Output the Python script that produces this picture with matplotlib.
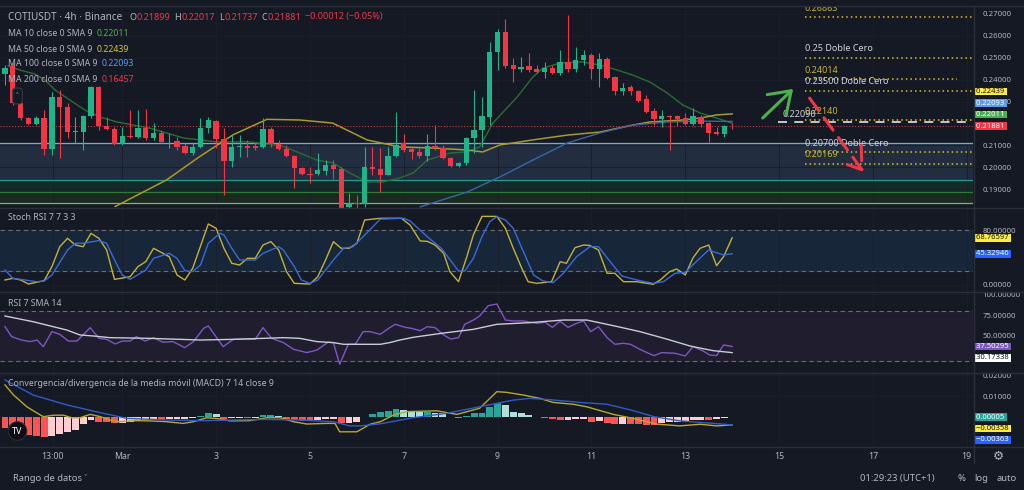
import numpy as np
import matplotlib
matplotlib.use("Agg")
import matplotlib.pyplot as plt
from matplotlib.ticker import FormatStrFormatter

plt.rcParams['font.family'] = ['Noto Sans', 'DejaVu Sans']

# ---- 4h candles ----
opens = [0.2426, 0.2462, 0.2294, 0.2225, 0.2198, 0.2225, 0.2084, 0.2321, 0.2275, 0.2163,
         0.2161, 0.2234, 0.2367, 0.2189, 0.2175, 0.2106, 0.2143, 0.2138, 0.2180, 0.2134,
         0.2157, 0.2118, 0.2120, 0.2097, 0.2065, 0.2093, 0.2180, 0.2211, 0.2129, 0.2029,
         0.2091, 0.2095, 0.2095, 0.2093, 0.2175, 0.2106, 0.2084, 0.2052, 0.1997, 0.1971,
         0.1969, 0.1983, 0.2011, 0.1992, 0.1819, 0.1837, 0.1832, 0.2001, 0.1992, 0.1965,
         0.2052, 0.2111, 0.2084, 0.2070, 0.2052, 0.2097, 0.2088, 0.2042, 0.2006, 0.2020,
         0.2134, 0.2170, 0.2230, 0.2527, 0.2618, 0.2467, 0.2449, 0.2463, 0.2449, 0.2435,
         0.2453, 0.2431, 0.2481, 0.2449, 0.2488, 0.2513, 0.2449, 0.2495, 0.2412, 0.2348,
         0.2367, 0.2348, 0.2312, 0.2257, 0.2221, 0.2234, 0.2234, 0.2225, 0.2198, 0.2230,
         0.2202, 0.2161, 0.2152, 0.21899]
highs = [0.2467, 0.2480, 0.2307, 0.2230, 0.2235, 0.2262, 0.2344, 0.2353, 0.2294, 0.2230,
         0.2239, 0.2371, 0.2371, 0.2230, 0.2184, 0.2184, 0.2262, 0.2262, 0.2266, 0.2202,
         0.2170, 0.2157, 0.2138, 0.2111, 0.2111, 0.2225, 0.2230, 0.2216, 0.2180, 0.2148,
         0.2148, 0.2125, 0.2115, 0.2225, 0.2184, 0.2125, 0.2102, 0.2056, 0.2001, 0.2001,
         0.2065, 0.2033, 0.2033, 0.2001, 0.1883, 0.1874, 0.2093, 0.2093, 0.2088, 0.2093,
         0.2253, 0.2152, 0.2093, 0.2088, 0.2152, 0.2193, 0.2102, 0.2047, 0.2024, 0.2138,
         0.2353, 0.2321, 0.2572, 0.2631, 0.2677, 0.2499, 0.2504, 0.2522, 0.2467, 0.2481,
         0.2467, 0.2536, 0.2695, 0.2549, 0.2536, 0.2522, 0.2522, 0.2504, 0.2415, 0.2385,
         0.2376, 0.2353, 0.2330, 0.2271, 0.2262, 0.2239, 0.2239, 0.2248, 0.2271, 0.2239,
         0.2207, 0.2184, 0.2193, 0.22017]
lows = [0.2376, 0.2285, 0.2216, 0.2193, 0.2195, 0.2056, 0.2056, 0.2042, 0.2134, 0.2111,
        0.2079, 0.2225, 0.2170, 0.2170, 0.2102, 0.2102, 0.2134, 0.2134, 0.2125, 0.2125,
        0.2111, 0.2088, 0.2079, 0.2061, 0.2056, 0.2088, 0.2157, 0.2088, 0.1874, 0.2001,
        0.2047, 0.2047, 0.2079, 0.2088, 0.2093, 0.2079, 0.2047, 0.1905, 0.1965, 0.1928,
        0.1965, 0.1965, 0.1947, 0.1800, 0.1805, 0.1810, 0.1820, 0.1965, 0.1887, 0.1965,
        0.2047, 0.2070, 0.2038, 0.2042, 0.2029, 0.2079, 0.2038, 0.2001, 0.2001, 0.2011,
        0.2065, 0.2093, 0.2193, 0.2444, 0.2453, 0.2389, 0.2435, 0.2435, 0.2431, 0.2408,
        0.2426, 0.2422, 0.2435, 0.2435, 0.2467, 0.2403, 0.2367, 0.2405, 0.2330, 0.2330,
        0.2330, 0.2298, 0.2248, 0.2193, 0.2184, 0.2079, 0.2189, 0.2193, 0.2193, 0.2184,
        0.2115, 0.2148, 0.2138, 0.21737]
closes = [0.2453, 0.2294, 0.2225, 0.2198, 0.2225, 0.2084, 0.2321, 0.2275, 0.2161, 0.2168,
          0.2234, 0.2367, 0.2189, 0.2175, 0.2106, 0.2143, 0.2138, 0.2180, 0.2134, 0.2157,
          0.2116, 0.2122, 0.2093, 0.2065, 0.2093, 0.2180, 0.2216, 0.2129, 0.2029, 0.2093,
          0.2095, 0.2090, 0.2090, 0.2175, 0.2106, 0.2084, 0.2052, 0.1997, 0.1969, 0.1967,
          0.1988, 0.2011, 0.1992, 0.1815, 0.1837, 0.1832, 0.2001, 0.1992, 0.1965, 0.2052,
          0.2102, 0.2079, 0.2070, 0.2052, 0.2097, 0.2088, 0.2042, 0.2006, 0.2020, 0.2134,
          0.2170, 0.2234, 0.2527, 0.2618, 0.2463, 0.2449, 0.2458, 0.2444, 0.2435, 0.2453,
          0.2431, 0.2481, 0.2449, 0.2490, 0.2513, 0.2449, 0.2495, 0.2408, 0.2348, 0.2362,
          0.2348, 0.2303, 0.2253, 0.2221, 0.2234, 0.2230, 0.2221, 0.2198, 0.2234, 0.2198,
          0.2157, 0.2152, 0.2189, 0.21881]

# moving averages (bar position, value)
ma10_x = [0.4, 1.9, 3.8, 5.1, 6.4, 8.3, 10.2, 12.1, 14.3, 18.5, 22.8, 27.1, 31.3, 35.5, 39.9,
          41.9, 44.1, 46.3, 48.3, 50.5, 52.2, 54, 56.9, 59.1, 60.7, 62.4, 65.5, 67.5, 68.8,
          71, 73.9, 76.1, 78.3, 80.3, 82.5, 84.7, 86.7, 88.9, 91, 93]
ma10_y = [0.2463, 0.2444, 0.2426, 0.2399, 0.2353, 0.2307, 0.2262, 0.2230, 0.2207, 0.2179,
          0.2134, 0.2116, 0.2116, 0.2097, 0.2033, 0.2020, 0.1974, 0.1933, 0.1933, 0.1951,
          0.1974, 0.2033, 0.2065, 0.2070, 0.2093, 0.2202, 0.2321, 0.2412, 0.2453, 0.2476,
          0.2481, 0.2467, 0.2444, 0.2421, 0.2389, 0.2339, 0.2284, 0.2248, 0.2225, 0.22011]
ma50_x = [14.1, 20.7, 24.9, 29.2, 33.5, 37.7, 41.9, 46.3, 50.5, 54.7, 59.1, 61.1, 63.3, 67.5,
          71.9, 76.1, 80.3, 82.5, 86.7, 88.9, 91, 93]
ma50_y = [0.1821, 0.1943, 0.2049, 0.2149, 0.2219, 0.2216, 0.2202, 0.2125, 0.2093, 0.2088,
          0.2079, 0.2070, 0.2102, 0.2125, 0.2147, 0.2161, 0.2193, 0.2207, 0.2216, 0.2225,
          0.2239, 0.22439]
ma100_x = [53.1, 59.1, 63.3, 67.5, 71.9, 76.1, 80.3, 84.7, 88.9, 93]
ma100_y = [0.1819, 0.1887, 0.1956, 0.2033, 0.2111, 0.2157, 0.2193, 0.2207, 0.2211, 0.22093]

# zones and drawn levels
zone_lines = [0.2111, 0.1942, 0.1887, 0.1837]
levels = [0.26863, 0.25, 0.24014, 0.235, 0.2214, 0.207, 0.20169]
level_labels = ["0.26863", "0.25 Doble Cero", "0.24014", "0.23500 Doble Cero",
                "0.22140", "0.20700 Doble Cero", "0.20169"]
level_end = [123.8, 123.8, 121.7, 123.8, 123.8, 123.8, 123.8]
dashed_level = 0.2209

# Stoch RSI
k_x = [0, 1, 2, 3, 5, 6, 7, 8, 9, 10, 11, 12, 13, 14, 16, 17, 18, 19, 21, 22, 23, 24, 26, 27,
       28, 29, 30, 31, 32, 33, 34, 35, 36, 37, 39, 40, 41, 42, 43, 44, 45, 46, 48, 50.7, 51.8,
       53.1, 54, 55, 56.1, 56.9, 58, 59, 59.9, 61, 62.2, 62.9, 64, 65, 66.1, 66.9, 68, 69.9,
       71, 71.8, 72.9, 74, 74.8, 75.9, 77, 78, 79.1, 80.8, 82.9, 83.8, 85, 85.9, 87, 88,
       88.9, 90, 91, 91.9, 93]
k_v = [6.9, 9.3, 6.9, 1.0, 5.9, 26.4, 55.6, 67.9, 58.1, 55.6, 75.2, 67.9, 50.8, 7.8, 11.7,
       26.4, 33.7, 53.3, 41.0, 14.2, 6.9, 23.9, 88.9, 82.5, 53.3, 31.3, 28.8, 38.6, 38.6,
       58.1, 63.0, 50.8, 19.1, 2.0, 1.0, 11.7, 36.2, 63.0, 53.3, 53.3, 60.6, 94.7, 97.2,
       97.2, 87.4, 64.0, 63.5, 58.1, 45.9, 19.1, 4.4, 38.6, 72.8, 100, 100, 100, 82.5, 53.3,
       23.9, 4.4, 2.0, 4.4, 33.7, 31.3, 54.2, 58.1, 57.3, 50.8, 16.7, 16.7, 4.4, 4.4, 0.6,
       6.9, 19.1, 23.0, 14.2, 39.5, 53.3, 58.1, 27.8, 41.0, 68.77]
d_x = [0, 1, 2, 4, 5, 6, 8, 9, 10, 12, 13, 14, 15, 16, 18, 19, 21, 22, 23, 24, 25, 26, 27.5,
       28, 29, 30, 32, 33, 35, 35.6, 37, 37.9, 39, 40, 41, 42, 43.3, 44.5, 45.8, 48, 51,
       51.8, 54, 55.8, 57.1, 58, 58.8, 59.9, 61, 62, 62.9, 64, 65, 66.3, 67.6, 68.8, 70.1,
       71.4, 73.1, 74.8, 75.9, 77.4, 78.9, 80.8, 82.9, 84.2, 85.7, 87, 88.4, 90, 90.6, 91.9, 93]
d_v = [21.5, 9.3, 7.8, 4.4, 5.4, 14.2, 50.8, 60.6, 60.6, 64.5, 60.6, 36.2, 14.2, 7.8, 21.5,
       38.6, 45.9, 38.6, 20.5, 19.1, 28.8, 60.6, 75.2, 72.8, 53.3, 36.2, 36.2, 45.9, 55.6,
       50.8, 26.4, 6.9, 2.0, 6.9, 21.5, 36.2, 53.3, 55.6, 70.3, 96.0, 97.2, 93.3, 70.3,
       53.3, 33.7, 20.1, 20.1, 38.6, 70.3, 92.3, 99.6, 94.7, 82.5, 48.3, 14.2, 5.4, 2.9,
       16.7, 41.0, 55.6, 55.6, 33.7, 12.7, 6.9, 2.0, 4.4, 16.7, 18.2, 33.7, 50.8, 48.3,
       43.5, 45.33]

# RSI 7 and its SMA 14
rsi_x = [0, 0.85, 2.1, 3.2, 4.1, 4.9, 6, 7, 8.1, 9.2, 10.9, 12, 13, 14.1, 15, 16, 16.8, 17.9,
         19, 20.2, 21.5, 23, 24.1, 25.4, 26, 27.9, 29.2, 30.5, 32, 33, 34.1, 35.6, 36.9, 38.6,
         39.9, 41.3, 42, 42.8, 43.9, 44.8, 45.8, 46.7, 48, 49.2, 49.9, 51.2, 52, 53.1, 54, 55,
         56.1, 57, 58, 58.8, 59.9, 60.7, 61.8, 62.9, 64, 65, 66.3, 68, 69.1, 70, 71, 72, 73.1,
         74, 74.9, 75.9, 77, 78, 79.1, 80, 81.2, 82.3, 83, 84, 85.7, 87, 88, 89.3, 90.1, 91,
         91.9, 93]
rsi_v = [61.1, 49.2, 45.2, 43.3, 45.2, 37.3, 55.2, 52, 44, 44, 59.9, 47.2, 46, 40.5, 44, 44,
         49.2, 44, 48, 42.5, 43.3, 36.1, 43.3, 59.1, 61.9, 37.3, 46, 46.4, 46, 59.9, 47.2,
         42.1, 34.1, 30.2, 33.3, 42.5, 42.1, 16.3, 40.1, 40.1, 55.2, 55.2, 52, 59.9, 63.9,
         60.3, 59.1, 56.3, 61.1, 59.9, 51.2, 46.4, 48, 63.9, 69, 73.8, 86.1, 88.1, 69, 67.9,
         67.9, 65.1, 66.3, 60.3, 67.5, 60.3, 65.1, 67.9, 55.2, 61.1, 48, 40.1, 41.3, 40.1,
         34.1, 29.4, 26.6, 30.2, 29.4, 26.2, 37.3, 32.1, 27.4, 26.6, 39.3, 37.5]
rsi_ma_x = [0, 3.6, 7.9, 9.6, 11.3, 13.4, 18.5, 25, 29.2, 35.6, 37.7, 39.9, 42, 43.3, 46.2, 48,
            49.2, 50.5, 52.2, 54.3, 56.5, 59.9, 62.9, 67.1, 71.4, 74.4, 77.8, 81.2, 84.6, 87.6,
            89.7, 90.6, 93]
rsi_ma_v = [73.8, 67, 57.1, 51.2, 50, 48, 47.2, 45.2, 46, 48, 47.2, 43.3, 42.1, 40.1, 40.1,
            40.1, 42.1, 45.2, 48.4, 51.2, 54, 57.9, 63.9, 65.9, 69, 69, 62.3, 55.2, 46.4, 38.1,
            34.1, 32.5, 30.17]

# MACD 7 14 9
macd_x = [0, 1.1, 2.8, 3.8, 4.9, 6.2, 7.5, 8.5, 9.6, 10.9, 12.2, 13.4, 14.7, 16.4, 18.5, 20.7,
          22.8, 24.1, 25.8, 27.1, 28.8, 31.3, 33.5, 35.2, 36.9, 38.6, 41.1, 42.2, 42.8, 45,
          46.7, 48, 49.7, 51.4, 55.2, 57.8, 60.7, 62.9, 64.1, 66.3, 68.4, 70.1, 72.7, 74.4,
          77.8, 80.3, 82.1, 83.3, 86.3, 88.9, 91, 93]
macd_v = [0.0154, 0.0106, 0.0050, 0.0027, 0.0003, 0.0010, 0.0010, -0.0002, -0.0002, 0.0014,
          0.0003, -0.0013, -0.0021, -0.0016, -0.0017, -0.0021, -0.0029, -0.0021, -0.0002,
          -0.0006, -0.0017, -0.0016, -0.0002, -0.0002, -0.0021, -0.0032, -0.0029, -0.0029,
          -0.0069, -0.0069, -0.0033, -0.0021, 0.0011, 0.0027, 0.0031, 0.0014, 0.0043, 0.0122,
          0.0119, 0.0106, 0.0090, 0.0071, 0.0062, 0.0050, 0.0014, -0.0005, -0.0021, -0.0032,
          -0.0041, -0.0033, -0.0041, -0.00358]
signal_x = [0, 3.6, 7.9, 12.2, 15.6, 20.7, 25, 29.2, 33.5, 37.7, 42, 44.1, 45.4, 48, 52.2,
            56.5, 60.7, 65, 67.1, 69.3, 73.5, 77, 80, 83, 86.3, 90.6, 93]
signal_v = [0.0178, 0.0106, 0.0059, 0.0022, -0.0005, -0.0013, -0.0016, -0.0013, -0.0010,
            -0.0013, -0.0021, -0.0041, -0.0041, -0.0031, -0.0002, 0.0019, 0.0050, 0.0082,
            0.0090, 0.0085, 0.0071, 0.0062, 0.0035, 0.0003, -0.0017, -0.0029, -0.00363]
hist = np.array([-51, -55, -75, -84, -90, -92, -88, -80, -70, -60,
                 -32, -13, -21, -22, -29, -26, -22, -16, -13, -10,
                 -11, -10, -8, -6, -5, 6, 19, 16, -6, -5,
                 -4, -5, -4, 9, 9, 6, -10, -13, -16, -17,
                 -13, -7, -6, -29, -29, -21, 2, 14, 27, 31,
                 38, 35, 31, 27, 27, 22, 19, 1, -5, 6,
                 19, 22, 48, 70, 59, 27, 19, 11, 3, -2,
                 -10, -12, -11, -10, -10, -21, -18, -29, -32, -31,
                 -33, -34, -37, -38, -29, -21, -21, -16, -13, -13,
                 -14, -8, -5, 0.5]) * 1e-4

tick_pos = [6.1, 15, 27, 39, 51, 63, 75, 87, 99, 111, 123]
tick_lab = ["13:00", "Mar", "3", "5", "7", "9", "11", "13", "15", "17", "19"]

BG = "#151924"
GRID = "#1b1f2b"
SEP = "#2a2e39"
TXT = "#b2b5be"
UP = "#1fb38a"
DOWN = "#f23645"
W, H = 1024, 490


def fx(x):
    return x / W


def fy(y):
    return 1 - y / H


fig = plt.figure(figsize=(W / 100, H / 100), dpi=100, facecolor=BG)


def panel(top, bottom, yticks):
    ax = fig.add_axes([0, fy(bottom), 973 / W, (bottom - top) / H])
    ax.set_facecolor(BG)
    for s in ax.spines.values():
        s.set_visible(False)
    ax.set_xlim(-0.64, 123.8)
    ax.set_xticks(tick_pos)
    ax.set_yticks(yticks)
    ax.grid(True, color=GRID, lw=0.7)
    ax.set_axisbelow(True)
    ax.yaxis.tick_right()
    ax.yaxis.set_major_formatter(FormatStrFormatter("%.5f"))
    ax.tick_params(axis="y", length=0, pad=7, labelsize=5.6, labelcolor=TXT)
    ax.tick_params(axis="x", length=0, labelbottom=False)
    return ax


# ticks hidden behind the value tags are left out
ax_p = panel(6, 207.5, [0.19, 0.20, 0.21, 0.23, 0.24, 0.25, 0.26, 0.27])
ax_s = panel(207.5, 291.5, [0, 80])
ax_r = panel(291.5, 372.5, [50, 75, 100])
ax_m = panel(372.5, 446.5, [0.01, 0.02])

# ---- price panel ----
ax_p.set_ylim(0.18164, 0.27365)

ax_p.axhspan(zone_lines[1], zone_lines[0], color="#222e40", zorder=0.5)
ax_p.axhspan(zone_lines[2], zone_lines[1], color="#15292b", zorder=0.5)
ax_p.axhspan(zone_lines[3], zone_lines[2], color="#1a2a20", zorder=0.5)
for v, c in zip(zone_lines, ["#7ea6cf", "#1f9e90", "#2f7a3a", "#86b07a"]):
    ax_p.axhline(v, color=c, lw=0.9, zorder=0.6)

o, h, l, c = map(np.array, (opens, highs, lows, closes))
idx = np.arange(len(o))
cols = np.where(c >= o, UP, DOWN)
ax_p.vlines(idx, l, h, colors=cols, lw=0.8, zorder=3)
ax_p.bar(idx, np.maximum(np.abs(c - o), 0.00012), bottom=np.minimum(o, c), width=0.68,
         color=cols, linewidth=0, zorder=3)

ax_p.plot(ma10_x, ma10_y, color="#2e6b34", lw=1.0, zorder=2)
ax_p.plot(ma50_x, ma50_y, color="#a89a2c", lw=1.1, zorder=2)
ax_p.plot(ma100_x, ma100_y, color="#3b64a8", lw=1.0, zorder=2)

ax_p.axhline(closes[-1], color=DOWN, ls=(0, (1, 2)), lw=0.7, zorder=2)
ax_p.plot([98.8, 123.8], [dashed_level, dashed_level], color="#d1d4dc", lw=1.3,
          ls=(0, (5, 4)), zorder=4)
ax_p.annotate("0.22090", xy=(99.5, dashed_level), xytext=(0, 1.5), textcoords="offset points",
              ha="left", va="bottom", fontsize=6.5, color="#d1d4dc", zorder=5)

for v, lab, end in zip(levels, level_labels, level_end):
    ax_p.plot([102.3, end], [v, v], color="#d4c12e", lw=1.1, ls=(0, (1, 2)), zorder=4)
    col = "#d1d4dc" if "Doble" in lab else "#c8b42c"
    ax_p.annotate(lab, xy=(102.3, v), xytext=(0, 3.2), textcoords="offset points",
                  ha="left", va="bottom", fontsize=6.5, color=col, zorder=5, clip_on=True)

ax_p.annotate("", xy=(100.8, 0.2358), xytext=(96.9, 0.2225),
              arrowprops=dict(arrowstyle="->,head_length=0.8,head_width=0.55", color="#4caf50",
                              lw=2.2, mutation_scale=18, shrinkA=0, shrinkB=0), zorder=6)
ax_p.annotate("", xy=(109.8, 0.1979), xytext=(102.9, 0.2316),
              arrowprops=dict(arrowstyle="->,head_length=0.8,head_width=0.55", color="#f23645",
                              lw=2.2, ls=(0, (5, 3)), mutation_scale=18, shrinkA=0, shrinkB=0),
              zorder=6)

# ---- Stoch RSI ----
ax_s.set_ylim(-9.96, 113.0)
ax_s.axhspan(20, 80, color="#172638", zorder=0.5)
for v in (20, 80):
    ax_s.axhline(v, color="#6a6d78", lw=0.8, ls=(0, (4, 3)), zorder=1)
ax_s.plot(k_x, k_v, color="#c2b238", lw=1.0, zorder=3)
ax_s.plot(d_x, d_v, color="#3a6ad8", lw=1.0, zorder=3)

# ---- RSI ----
ax_r.set_ylim(6.5, 103.0)
ax_r.axhspan(20, 80, color="#1f1d2e", zorder=0.5)
for v in (20, 80):
    ax_r.axhline(v, color="#6a6d78", lw=0.8, ls=(0, (4, 3)), zorder=1)
ax_r.plot(rsi_x, rsi_v, color="#7e57c2", lw=1.0, zorder=3)
ax_r.plot(rsi_ma_x, rsi_ma_v, color="#c9ccd4", lw=1.0, zorder=3)

# ---- MACD ----
ax_m.set_ylim(-0.0139, 0.02133)
prev = np.concatenate([[0], hist[:-1]])
hcols = np.where(hist >= 0, np.where(hist >= prev, "#26a69a", "#b2dfdb"),
                 np.where(hist < prev, "#ff5252", "#ffcdd2"))
ax_m.bar(np.arange(len(hist)), hist, width=0.88, color=hcols, linewidth=0, zorder=2)
ax_m.plot(macd_x, macd_v, color="#b8a82a", lw=1.0, zorder=3)
ax_m.plot(signal_x, signal_v, color="#2f5bc9", lw=1.0, zorder=3)
ax_m.set_xticklabels(tick_lab)
ax_m.tick_params(axis="x", labelbottom=True, pad=4, labelsize=6.3, labelcolor=TXT)


# ---- value tags on the right scale ----
def tag(ax, y, text, bg, fg, dy=0):
    ax.annotate(" " + text + " ", xy=(1, y), xycoords=ax.get_yaxis_transform(),
                xytext=(0.9, dy), textcoords="offset points", ha="left", va="center",
                fontsize=5.5, color=fg, bbox=dict(boxstyle="square,pad=0.05", fc=bg, ec="none"),
                annotation_clip=False, zorder=10)


tag(ax_p, closes[-1], "0.21881", "#f23645", "white")
tag(ax_p, closes[-1], "0.22011", "#4caf50", "white", 8.3)
tag(ax_p, closes[-1], "0.22093", "#5b9cf6", "white", 16.6)
tag(ax_p, closes[-1], "0.22439", "#ffeb3b", "#131722", 24.9)
tag(ax_s, 68.76597, "68.76597", "#ffeb3b", "#131722")
tag(ax_s, 45.32946, "45.32946", "#2962ff", "white")
tag(ax_r, 37.50295, "37.50295", "#7e57c2", "white")
tag(ax_r, 37.50295, "30.17338", "#ffffff", "#131722", -8.1)
tag(ax_m, 0.00005, "0.00005", "#26a69a", "white")
tag(ax_m, 0.00005, "\u22120.00358", "#ffeb3b", "#131722", -8.2)
tag(ax_m, 0.00005, "\u22120.00363", "#2962ff", "white", -16.4)


# ---- legends ----
def chain(first, parts, size=6.3):
    t = first
    for txt, col, gap in parts:
        t = ax_p.annotate(txt, xy=(1, 0.5), xycoords=t, xytext=(gap, 0),
                          textcoords="offset points", ha="left", va="center",
                          fontsize=size, color=col, annotation_clip=False)
    return t


t0 = fig.text(fx(8), fy(17), "COTIUSDT \u00b7 4h \u00b7 Binance", fontsize=7.2, color=TXT,
              va="center", ha="left")
chain(t0, [("O", TXT, 5), ("0.21899", DOWN, 0.2), ("H", TXT, 3), ("0.22017", DOWN, 0.2),
           ("L", TXT, 3), ("0.21737", DOWN, 0.2), ("C", TXT, 3), ("0.21881", DOWN, 0.2),
           ("\u22120.00012 (\u22120.05%)", DOWN, 3)], 6.5)

ma_rows = [("MA 10 close 0 SMA 9", "0.22011", "#4caf50", 33),
           ("MA 50 close 0 SMA 9", "0.22439", "#d6c438", 49),
           ("MA 100 close 0 SMA 9", "0.22093", "#5b9cf6", 64),
           ("MA 200 close 0 SMA 9", "0.16457", "#f23645", 80)]
for name, val, col, yy in ma_rows:
    t = fig.text(fx(8), fy(yy), name, fontsize=6.3, color=TXT, va="center", ha="left")
    chain(t, [(val, col, 3)])

t = fig.text(fx(8), fy(218), "Stoch RSI 7 7 3 3", fontsize=6.3, color=TXT, va="center")
chain(t, [("68.76597", "#d4c23a", 4), ("45.32946", "#3d6be0", 3)])
t = fig.text(fx(8), fy(303), "RSI 7 SMA 14", fontsize=6.3, color=TXT, va="center")
chain(t, [("37.50295", "#9575cd", 4), ("30.17338", "#e0e3eb", 3)])
t = fig.text(fx(8), fy(384), "Convergencia/divergencia de la media m\u00f3vil (MACD) 7 14 close 9",
             fontsize=6.3, color=TXT, va="center")
chain(t, [("0.00005", "#26a69a", 4), ("\u22120.00358", "#d4c23a", 3),
          ("\u22120.00363", "#3d6be0", 3)])

# collapse button and logo
fig.text(fx(17.5), fy(96), "\u02c4", fontsize=7, color=TXT, ha="center", va="center",
         bbox=dict(boxstyle="round,pad=0.35", fc=BG, ec="#363a45", lw=0.8))
fig.text(fx(17.5), fy(431), "TV", fontsize=6.5, fontweight="bold", color="white",
         ha="center", va="center",
         bbox=dict(boxstyle="circle,pad=0.45", fc="#0b0d12", ec="#2a2e39", lw=0.8))

# separators
for yy in (6, 207.5, 291.5, 372.5, 446.5):
    fig.add_artist(plt.Line2D([0, 1], [fy(yy), fy(yy)], color=SEP, lw=1))
fig.add_artist(plt.Line2D([fx(973.5), fx(973.5)], [fy(6), fy(463)], color=SEP, lw=1))

# bottom bar
fig.text(fx(998), fy(456), "\u2699", fontsize=9, color=TXT, ha="center", va="center",
         family="DejaVu Sans")
fig.text(fx(13), fy(478), "Rango de datos \u02c5", fontsize=6.8, color=TXT, va="center")
fig.text(fx(935), fy(478), "01:29:23 (UTC+1)", fontsize=6.8, color=TXT, va="center", ha="right")
fig.text(fx(961), fy(478), "%", fontsize=6.8, color=TXT, va="center", ha="center")
fig.text(fx(981), fy(478), "log", fontsize=6.8, color=TXT, va="center", ha="center")
fig.text(fx(1007), fy(478), "auto", fontsize=6.8, color=TXT, va="center", ha="center")

fig.savefig("out.png", dpi=100, facecolor=BG)
